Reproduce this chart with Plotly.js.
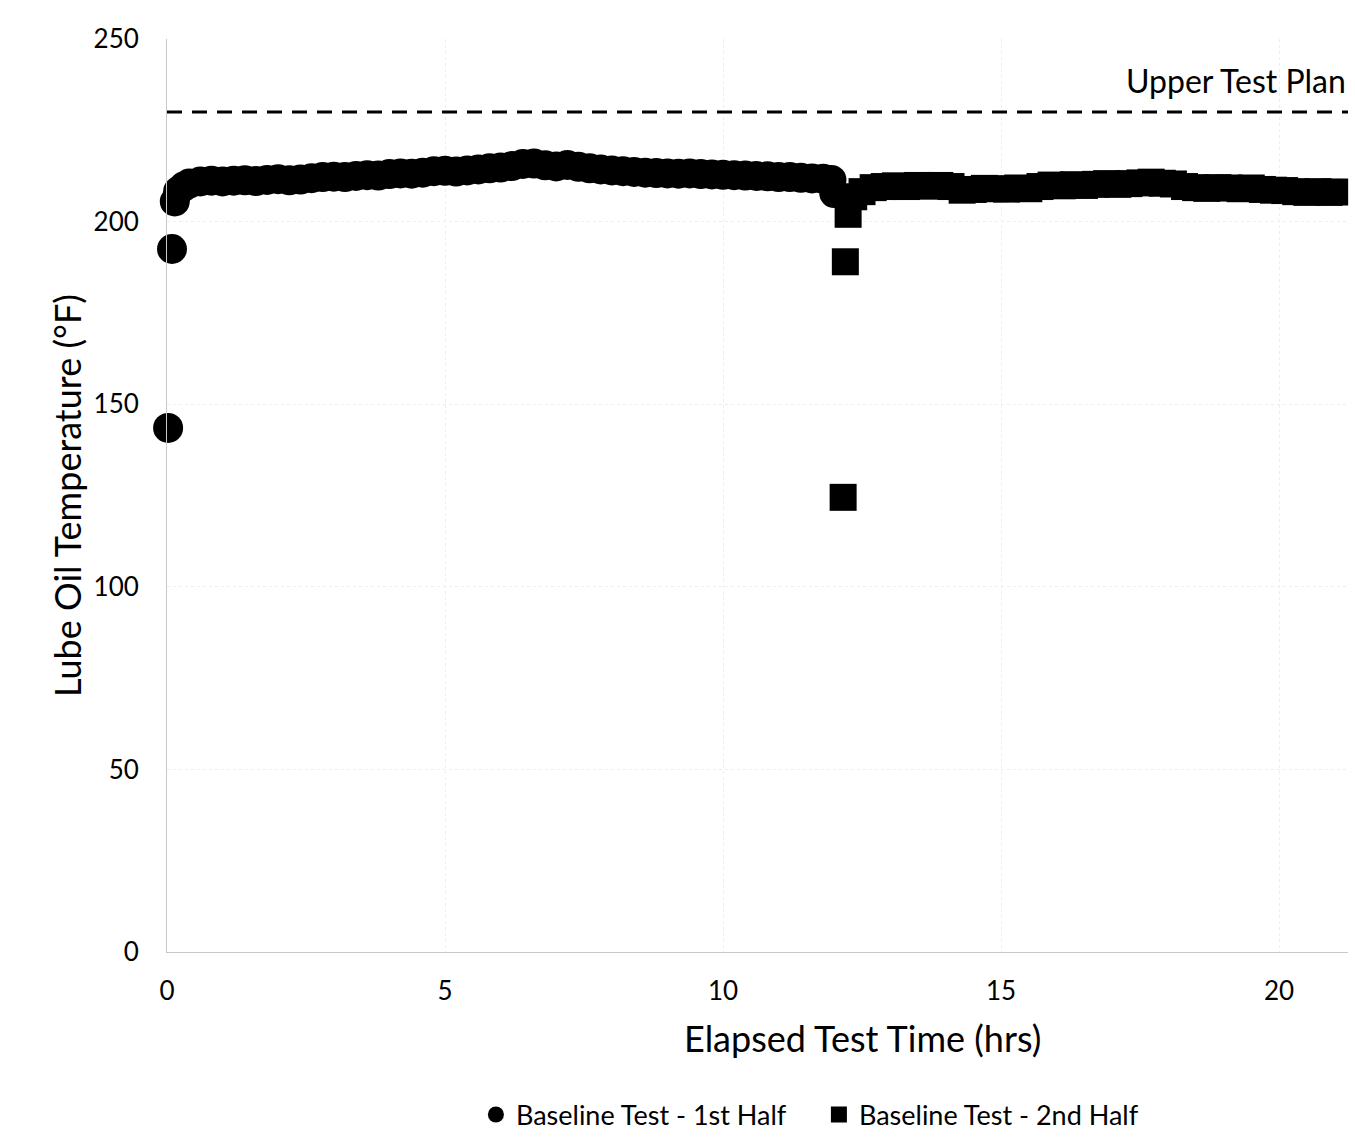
<!DOCTYPE html>
<html>
<head>
<meta charset="utf-8">
<script src="https://cdn.plot.ly/plotly-3.0.1.min.js"></script>
<style>html,body{margin:0;padding:0;background:#fff;}#chart{width:1355px;height:1141px;}</style>
</head>
<body>
<div id="chart"></div>
<script>
// Baseline Test - 1st Half (circles): elapsed hours and lube oil temperature (°F)
const firstHalfHours = [0.02, 0.09, 0.14, 0.2, 0.3, 0.4, 0.6, 0.8, 1.0, 1.2, 1.4, 1.6, 1.8, 2.0, 2.2, 2.4, 2.6, 2.8, 3.0, 3.2, 3.4, 3.6, 3.8, 4.0, 4.2, 4.4, 4.6, 4.8, 5.0, 5.2, 5.4, 5.6, 5.8, 6.0, 6.2, 6.4, 6.6, 6.8, 7.0, 7.2, 7.4, 7.6, 7.8, 8.0, 8.2, 8.4, 8.6, 8.8, 9.0, 9.2, 9.4, 9.6, 9.8, 10.0, 10.2, 10.4, 10.6, 10.8, 11.0, 11.2, 11.4, 11.6, 11.8, 11.95, 12.0];
const firstHalfTemp  = [143.5, 192.5, 205.5, 208.3, 209.6, 210.4, 211.0, 211.2, 211.0, 211.2, 211.3, 211.1, 211.4, 211.6, 211.3, 211.5, 211.9, 212.2, 212.3, 212.2, 212.5, 212.7, 212.6, 213.0, 213.2, 213.1, 213.4, 213.8, 213.9, 213.7, 214.0, 214.3, 214.6, 214.8, 215.2, 215.8, 215.9, 215.4, 215.1, 215.5, 215.0, 214.6, 214.3, 214.0, 213.8, 213.6, 213.4, 213.3, 213.2, 213.1, 213.2, 213.0, 212.9, 212.8, 212.7, 212.6, 212.5, 212.4, 212.2, 212.2, 212.0, 211.8, 211.7, 211.4, 207.8];

// Baseline Test - 2nd Half (squares)
const secondHalfHours = [12.16, 12.2, 12.25, 12.35, 12.5, 12.7, 12.9, 13.1, 13.3, 13.5, 13.7, 13.9, 14.1, 14.3, 14.5, 14.7, 14.9, 15.1, 15.3, 15.5, 15.7, 15.9, 16.1, 16.3, 16.5, 16.7, 16.9, 17.1, 17.3, 17.5, 17.7, 17.9, 18.1, 18.3, 18.5, 18.7, 18.9, 19.1, 19.3, 19.5, 19.7, 19.9, 20.1, 20.3, 20.5, 20.7, 20.9, 21.0];
const secondHalfTemp  = [124.5, 189.0, 202.0, 206.8, 208.2, 209.3, 209.6, 209.8, 209.6, 209.9, 209.7, 209.9, 209.6, 208.6, 208.8, 209.1, 209.0, 208.9, 209.2, 209.0, 209.6, 210.0, 209.8, 210.1, 209.9, 210.2, 210.4, 210.2, 210.4, 210.6, 210.8, 210.5, 210.3, 209.6, 209.3, 209.1, 209.3, 209.2, 209.0, 209.2, 208.8, 208.6, 208.5, 208.2, 208.0, 208.2, 208.0, 208.1];

// Upper test plan limit
const upperPlanHours = [0, 21.24];
const upperPlanTemp  = [230, 230];

const xTicks = [0, 5, 10, 15, 20];
const yTicks = [0, 50, 100, 150, 200, 250];

const FONT = 'Lato, "Open Sans", sans-serif';

const traces = [
  {
    x: upperPlanHours, y: upperPlanTemp, type: 'scatter', mode: 'lines',
    line: {color: '#000', width: 3, dash: '15px,10px'},
    showlegend: false, hoverinfo: 'skip', cliponaxis: false
  },
  {
    x: firstHalfHours, y: firstHalfTemp, type: 'scatter', mode: 'markers',
    name: 'Baseline Test - 1st Half',
    marker: {symbol: 'circle', size: 30, color: '#000'},
    cliponaxis: false
  },
  {
    x: secondHalfHours, y: secondHalfTemp, type: 'scatter', mode: 'markers',
    name: 'Baseline Test - 2nd Half',
    marker: {symbol: 'square', size: 27, color: '#000'},
    cliponaxis: false
  }
];

const layout = {
  width: 1355, height: 1141,
  paper_bgcolor: '#fff', plot_bgcolor: '#fff',
  margin: {l: 167, r: 7, t: 39, b: 189, autoexpand: false},
  font: {family: FONT, color: '#000'},
  xaxis: {
    range: [0, 21.24], tickvals: xTicks, ticktext: xTicks.map(String),
    showgrid: true, gridcolor: '#eeeeee', griddash: 'dot', gridwidth: 1,
    zeroline: false, showline: true, linecolor: '#c8c8c8', linewidth: 1,
    ticks: '', tickfont: {size: 26, family: FONT, color: '#000'},
    ticklabelstandoff: 16, automargin: false
  },
  yaxis: {
    range: [0, 250], tickvals: yTicks, ticktext: yTicks.map(String),
    showgrid: true, gridcolor: '#eeeeee', griddash: 'dot', gridwidth: 1,
    zeroline: false, showline: true, linecolor: '#c8c8c8', linewidth: 1,
    ticks: '', tickfont: {size: 26, family: FONT, color: '#000'},
    ticklabelstandoff: 22, automargin: false,
    title: {text: 'Lube Oil Temperature (°F)', font: {size: 36, family: FONT, color: '#000'}, standoff: 0}
  },
  legend: {
    orientation: 'h', x: 0.552, xanchor: 'center', y: -0.1785, yanchor: 'middle',
    font: {size: 27, family: FONT, color: '#000'},
    entrywidth: 298, entrywidthmode: 'pixels',
    itemclick: false
  },
  annotations: [
    {
      text: 'Elapsed Test Time (hrs)', xref: 'paper', yref: 'paper',
      x: 0.5885, y: -0.0942, xanchor: 'center', yanchor: 'middle', showarrow: false,
      font: {size: 36, family: FONT, color: '#000'}
    },
    {
      text: 'Upper Test Plan', xref: 'paper', yref: 'y',
      x: 1.0, y: 238.6, xanchor: 'right', yanchor: 'middle', showarrow: false,
      font: {size: 32, family: FONT, color: '#000'}
    }
  ]
};

Plotly.newPlot('chart', traces, layout, {displayModeBar: false, staticPlot: true});
</script>
</body>
</html>
